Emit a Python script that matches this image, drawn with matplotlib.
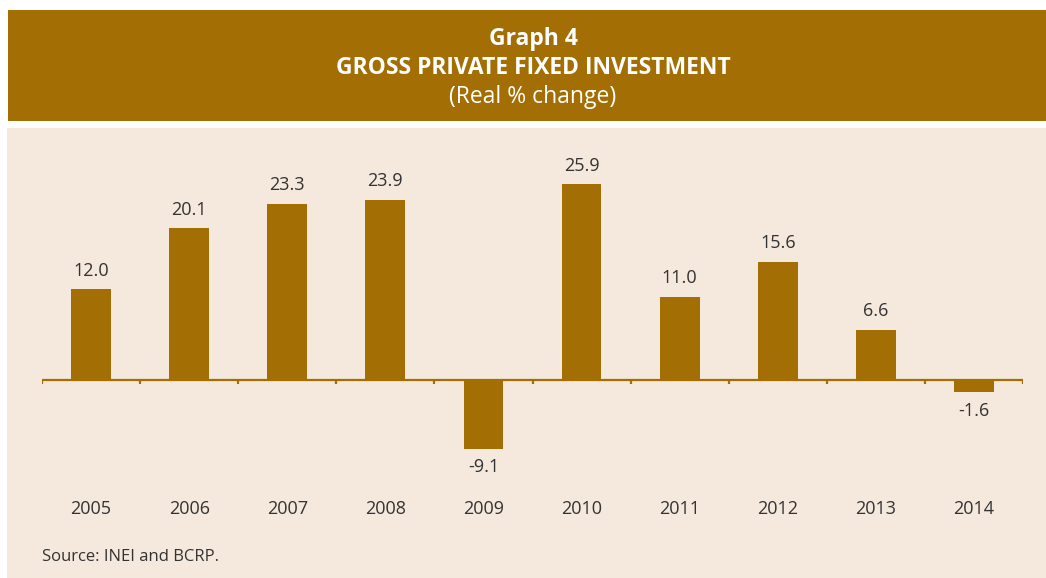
import matplotlib.pyplot as plt
import numpy as np
from matplotlib.patches import Rectangle

years = ['2005', '2006', '2007', '2008', '2009', '2010', '2011', '2012', '2013', '2014']
growth = [12.0, 20.1, 23.3, 23.9, -9.1, 25.9, 11.0, 15.6, 6.6, -1.6]

brown = '#A36F05'
panel = '#F5E8DC'
text_dark = '#333333'

plt.rcParams['font.family'] = ['Open Sans', 'DejaVu Sans']

W, H = 1046, 578
fig = plt.figure(figsize=(W / 100, H / 100), dpi=100)
fig.patch.set_facecolor('white')

# header band and chart panel behind the axes
fig.patches.append(Rectangle((8 / W, 1 - 121 / H), 1 - 8 / W, 111 / H,
                             transform=fig.transFigure, facecolor=brown, edgecolor='none', zorder=-1))
fig.patches.append(Rectangle((7 / W, 0), 1 - 7 / W, 1 - 128 / H,
                             transform=fig.transFigure, facecolor=panel, edgecolor='none', zorder=-1))

fig.text(533 / W, 1 - 39 / H, 'Graph 4', color='white', fontsize=16.5, fontweight='bold',
         ha='center', va='center')
fig.text(533 / W, 1 - 68 / H, 'GROSS PRIVATE FIXED INVESTMENT', color='white', fontsize=16.5,
         fontweight='bold', ha='center', va='center')
fig.text(533 / W, 1 - 97 / H, '(Real % change)', color='white', fontsize=16.5,
         ha='center', va='center')

# axes placed so that zero sits on the brown baseline
ymin, ymax = -12, 32
px_per_unit = 7.55
ax_h = (ymax - ymin) * px_per_unit
ax_top = 380 - ymax * px_per_unit
ax = fig.add_axes([42 / W, (H - ax_top - ax_h) / H, 981 / W, ax_h / H])
ax.set_facecolor('none')
ax.set_zorder(2)

x = np.arange(len(years))
ax.bar(x, growth, width=0.405, color=brown, zorder=2)

for xi, v in zip(x, growth):
    if v >= 0:
        ax.annotate(f'{v:.1f}', (xi, v), xytext=(0, 7), textcoords='offset points',
                    ha='center', va='bottom', fontsize=13, color=text_dark)
    else:
        ax.annotate(f'{v:.1f}', (xi, v), xytext=(0, -7), textcoords='offset points',
                    ha='center', va='top', fontsize=13, color=text_dark)

ax.set_xlim(-0.5, len(years) - 0.5)
ax.set_ylim(ymin, ymax)
ax.axhline(0, color=brown, lw=1.6, zorder=3)

for s in ax.spines.values():
    s.set_visible(False)
ax.set_yticks([])
ax.set_xticks([])

# small boundary ticks hanging from the baseline
for b in np.arange(-0.5, len(years)):
    ax.plot([b, b], [0, -0.55], color=brown, lw=1.6, zorder=3, solid_capstyle='butt')

# year labels sit well below the baseline, outside the bars' range
for xi, yr in zip(x, years):
    ax.annotate(yr, (xi, 0), xytext=(0, -(509 - 380) / 1.389), textcoords='offset points',
                ha='center', va='center', fontsize=13, color=text_dark, annotation_clip=False)

fig.text(42 / W, 1 - 557 / H, 'Source: INEI and BCRP.', ha='left', va='center',
         fontsize=12, color=text_dark)

fig.savefig('out.png', dpi=100)
